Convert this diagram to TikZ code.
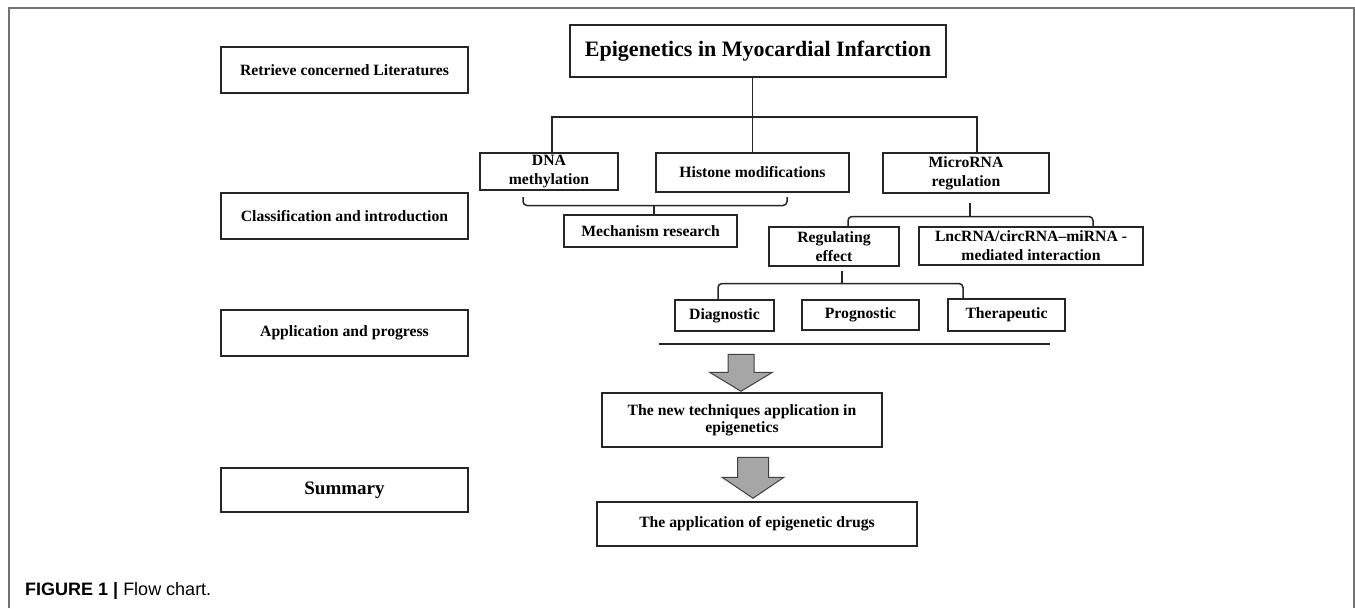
\documentclass[tikz,border=0pt]{standalone}
\usepackage{fontspec}
\setmainfont{Liberation Serif}
\newfontfamily\capfont{Liberation Sans}
\begin{document}
\begin{tikzpicture}[x=1pt,y=-1pt,
  box/.style={draw=black!85, line width=1.5pt, fill=white, inner sep=0pt, align=center,
    font=\fontsize{15.7}{19}\selectfont\bfseries},
  conn/.style={draw=black!85, line width=1.5pt},
  brace/.style={conn, rounded corners=4pt},
  blockarrow/.style={draw=black!75, line width=1pt, fill=gray!70, line join=miter},
  frameline/.style={draw=black!55, line width=1.5pt}
]
\useasboundingbox (0,0) rectangle (1355,608);
% frame
\draw[frameline] (9,608) -- (9,8) -- (1354,8) -- (1354,608);

% left column
\node[box, minimum width=247pt, minimum height=46pt] (ret) at (344.5,70) {Retrieve concerned Literatures};
\node[box, minimum width=247pt, minimum height=46pt] (cls) at (344.5,216) {Classification and introduction};
\node[box, minimum width=247pt, minimum height=46pt] (app) at (344.5,333) {Application and progress};
\node[box, minimum width=247pt, minimum height=44pt, font=\fontsize{19}{22}\selectfont\bfseries] (sum) at (344.5,490) {Summary};

% main tree
\node[box, minimum width=376pt, minimum height=52pt, font=\fontsize{22}{26}\selectfont\bfseries] (title) at (758,51) {Epigenetics in Myocardial Infarction};
\node[box, minimum width=138pt, minimum height=37pt] (dna) at (549,171.5) {DNA\\methylation};
\node[box, minimum width=193pt, minimum height=39pt] (hist) at (752.5,172.5) {Histone modifications};
\node[box, minimum width=166pt, minimum height=40pt] (mir) at (966,173) {MicroRNA\\regulation};
\node[box, minimum width=173pt, minimum height=32pt] (mech) at (650.5,231) {Mechanism research};
\node[box, minimum width=130pt, minimum height=39pt] (reg) at (834,246.5) {Regulating\\effect};
\node[box, minimum width=224pt, minimum height=38pt] (lnc) at (1031,246) {LncRNA/circRNA--miRNA -\\mediated interaction};
\node[box, minimum width=99pt, minimum height=31pt] (diag) at (724.5,315.5) {Diagnostic};
\node[box, minimum width=117pt, minimum height=30pt] (prog) at (860.5,315) {Prognostic};
\node[box, minimum width=117pt, minimum height=32pt] (ther) at (1006.5,315) {Therapeutic};
\node[box, minimum width=280pt, minimum height=54pt, font=\fontsize{15.7}{17}\selectfont\bfseries] (tech) at (742,420) {The new techniques application in\\epigenetics};
\node[box, minimum width=320pt, minimum height=44pt] (drug) at (757,524) {The application of epigenetic drugs};

% connectors from title
\draw[conn] (title.south -| hist.north) -- (hist.north);
\draw[conn] ([xshift=3pt]dna.north) |- ([xshift=11pt]mir.north |- 0,117) -- ([xshift=11pt]mir.north);

% brace DNA / Histone -> Mechanism
\draw[brace] ([xshift=-26pt]dna.south |- 0,197) -- ([xshift=-26pt]dna.south |- 0,205.5)
  -- ([xshift=34.5pt]hist.south |- 0,205.5) -- ([xshift=34.5pt]hist.south |- 0,197);
\draw[conn] ([xshift=3.5pt]mech.north) -- ++(0,-9);

% brace MicroRNA -> Regulating / LncRNA
\draw[conn] (mir.south) ++(4,9) -- ++(0,14);
\draw[brace] ([xshift=14pt]reg.north) |- ([xshift=62pt]lnc.north |- 0,216.5) -- ([xshift=62pt]lnc.north);

% brace Regulating -> Diagnostic / Therapeutic
\draw[conn] (reg.south) ++(8,4) -- ++(0,13);
\draw[brace] ([xshift=-6.5pt]diag.north) |- ([xshift=-43.5pt]ther.north |- 0,283.5) -- ([xshift=-43.5pt]ther.north);

% thick separator
\coordinate (sepL) at (659,344);
\coordinate (sepR) at (1050,344);
\draw[draw=black!85, line width=2.8pt] (sepL) -- (sepR);

% block arrows
\coordinate (a1) at ([xshift=-1pt,yshift=1pt]tech.north);
\path[blockarrow] (a1) -- ++(-31.5,-19) -- ++(18.5,0) -- ++(0,-18) -- ++(26,0) -- ++(0,18) -- ++(18.5,0) -- cycle;
\coordinate (a2) at ([xshift=-4pt,yshift=3pt]drug.north);
\path[blockarrow] (a2) -- ++(-31,-21) -- ++(15.5,0) -- ++(0,-20) -- ++(31,0) -- ++(0,20) -- ++(15.5,0) -- cycle;

% caption
\node[anchor=base west, inner sep=0pt, font=\capfont\fontsize{18}{20}\selectfont] (cap) at (25,595) {\textbf{FIGURE 1 |} Flow chart.};
\end{tikzpicture}
\end{document}
